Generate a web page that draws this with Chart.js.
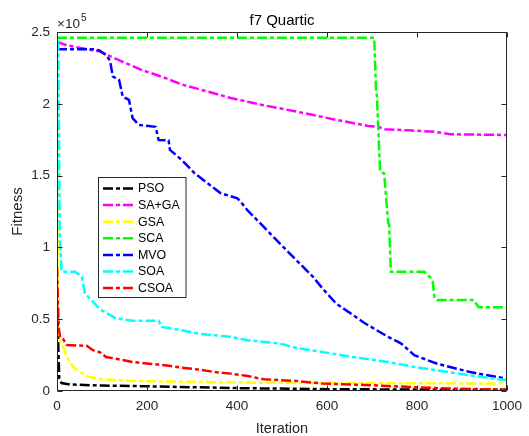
<!DOCTYPE html>
<html>
<head>
<meta charset="utf-8">
<script src="https://cdn.jsdelivr.net/npm/chart.js@4.4.0/dist/chart.umd.min.js"></script>
<style>
  html, body { margin: 0; padding: 0; background: #fff; }
  canvas { display: block; }
</style>
</head>
<body>
<canvas id="convergenceChart" width="529" height="436"></canvas>
<script>
// best fitness per iteration, values in units of 1e5: [iteration, fitness]
const psoCurve = [[0, 0.62], [3, 0.3], [5, 0.09], [10, 0.055], [30, 0.045], [100, 0.038], [200, 0.033],
  [400, 0.02], [600, 0.013], [800, 0.01], [1000, 0.008]];
const sagaCurve = [[0, 2.43], [20, 2.41], [50, 2.39], [95, 2.365], [140, 2.3], [189, 2.235], [240, 2.18],
  [277, 2.135], [335, 2.085], [386, 2.04], [459, 1.99], [532, 1.946], [580, 1.915], [620, 1.888],
  [692, 1.846], [714, 1.84], [729, 1.823], [780, 1.815], [838, 1.806], [875, 1.788], [1000, 1.783]];
const gsaCurve = [[0, 2.4], [1, 1.3], [2, 0.7], [3, 0.45], [5, 0.36], [11, 0.33], [22, 0.237], [36, 0.167],
  [51, 0.132], [70, 0.1], [95, 0.083], [168, 0.07], [313, 0.063], [459, 0.057], [700, 0.055], [1000, 0.052]];
const scaCurve = [[0, 2.46], [705, 2.46], [709, 2.09], [711, 2.05], [718, 1.53], [727, 1.515], [736, 1.17],
  [738, 1.16], [742, 0.83], [816, 0.83], [830, 0.79], [835, 0.76], [839, 0.65], [845, 0.633], [926, 0.633],
  [937, 0.583], [1000, 0.583]];
const mvoCurve = [[0, 2.38], [80, 2.38], [95, 2.37], [109, 2.34], [118, 2.3], [124, 2.19], [138, 2.167],
  [146, 2.05], [160, 2.027], [168, 1.9], [182, 1.853], [219, 1.84], [226, 1.748], [248, 1.745], [251, 1.679],
  [277, 1.61], [306, 1.516], [335, 1.446], [364, 1.377], [401, 1.342], [408, 1.318], [423, 1.26], [459, 1.144],
  [495, 1.028], [532, 0.911], [569, 0.795], [590, 0.714], [620, 0.61], [685, 0.47], [736, 0.377], [765, 0.33],
  [794, 0.249], [845, 0.19], [918, 0.132], [1000, 0.085]];
const soaCurve = [[0, 2.44], [3, 2.42], [6, 1.1], [10, 0.85], [11, 0.83], [40, 0.83], [55, 0.795], [62, 0.68],
  [73, 0.644], [95, 0.57], [131, 0.505], [168, 0.49], [226, 0.49], [233, 0.446], [277, 0.423], [313, 0.4],
  [350, 0.388], [386, 0.377], [423, 0.354], [459, 0.342], [496, 0.33], [532, 0.3], [590, 0.272], [650, 0.24],
  [736, 0.202], [790, 0.17], [845, 0.144], [918, 0.109], [1000, 0.075]];
const csoaCurve = [[0, 0.86], [2, 0.6], [4, 0.44], [7, 0.37], [14, 0.36], [22, 0.32], [66, 0.315], [80, 0.284],
  [95, 0.27], [109, 0.237], [131, 0.225], [168, 0.202], [204, 0.19], [240, 0.179], [277, 0.163], [313, 0.15],
  [350, 0.132], [386, 0.121], [423, 0.105], [459, 0.082], [532, 0.07], [590, 0.052], [700, 0.04], [809, 0.024],
  [900, 0.015], [1000, 0.01]];

const seriesNames = ["PSO", "SA+GA", "GSA", "SCA", "MVO", "SOA", "CSOA"];
const seriesColors = ["#000000", "#ff00ff", "#ffff00", "#00ff00", "#0000ff", "#00ffff", "#ff0000"];
const curves = [psoCurve, sagaCurve, gsaCurve, scaCurve, mvoCurve, soaCurve, csoaCurve];

const chartTitle = "f7 Quartic";
const xMax = 1000;
const yMax = 2.5;
const exponentText = "5";

const FONT = "'Liberation Sans', Arial, sans-serif";
const INK = "#262626";
const DASH = [10, 3, 4, 3];
const LINE_W = 2.5;

// matlab-like axes: full box, inward ticks, title over the plot, exponent label and a legend inside
const matlabAxes = {
  id: "matlabAxes",
  afterDatasetsDraw(chart) {
    const { ctx, chartArea: a, scales } = chart;
    const L = Math.round(a.left) + 0.5, R = Math.round(a.right) - 0.5;
    const T = Math.round(a.top) + 0.5, B = Math.round(a.bottom) - 0.5;
    ctx.save();
    ctx.strokeStyle = INK;
    ctx.lineWidth = 1;
    ctx.setLineDash([]);
    ctx.strokeRect(L, T, R - L, B - T);

    const tl = 5;
    ctx.beginPath();
    scales.x.ticks.forEach((t) => {
      const px = Math.round(scales.x.getPixelForValue(t.value)) + 0.5;
      ctx.moveTo(px, B); ctx.lineTo(px, B - tl);
      ctx.moveTo(px, T); ctx.lineTo(px, T + tl);
    });
    scales.y.ticks.forEach((t) => {
      const py = Math.round(scales.y.getPixelForValue(t.value)) + 0.5;
      ctx.moveTo(L, py); ctx.lineTo(L + tl, py);
      ctx.moveTo(R, py); ctx.lineTo(R - tl, py);
    });
    ctx.stroke();

    // title centred on the axes
    ctx.fillStyle = "#000000";
    ctx.textAlign = "center";
    ctx.textBaseline = "alphabetic";
    ctx.font = `15px ${FONT}`;
    ctx.fillText(chartTitle, (a.left + a.right) / 2, 25);

    // x10^5 above the y axis
    ctx.fillStyle = INK;
    ctx.textAlign = "left";
    ctx.font = `13.5px ${FONT}`;
    ctx.fillText("\u00d710", a.left, 28.3);
    const w = ctx.measureText("\u00d710").width;
    ctx.font = `10px ${FONT}`;
    ctx.fillText(exponentText, a.left + w + 1, 20.7);

    // legend
    const bx = 98.5, by = 177.5, bw = 87.5, bh = 120;
    ctx.fillStyle = "#ffffff";
    ctx.fillRect(bx, by, bw, bh);
    ctx.strokeStyle = INK;
    ctx.strokeRect(bx, by, bw, bh);
    ctx.font = `12.4px ${FONT}`;
    ctx.textBaseline = "middle";
    seriesNames.forEach((name, i) => {
      const y = 188.5 + i * 16.6;
      ctx.strokeStyle = seriesColors[i];
      ctx.lineWidth = LINE_W;
      ctx.setLineDash(DASH);
      ctx.beginPath();
      ctx.moveTo(103, y);
      ctx.lineTo(134, y);
      ctx.stroke();
      ctx.fillStyle = "#000000";
      ctx.fillText(name, 138, y + 0.5);
    });
    ctx.restore();
  },
};

const datasets = curves.map((curve, i) => ({
  label: seriesNames[i],
  data: curve.map(([x, y]) => ({ x, y })),
  borderColor: seriesColors[i],
  backgroundColor: seriesColors[i],
  borderWidth: LINE_W,
  borderDash: DASH,
  pointRadius: 0,
  tension: 0,
  fill: false,
  // later series sit on top, like a plot() call sequence
  order: seriesNames.length - i,
}));

const ctx = document.getElementById("convergenceChart").getContext("2d");
new Chart(ctx, {
  type: "line",
  data: { datasets },
  plugins: [matlabAxes],
  options: {
    responsive: false,
    animation: false,
    layout: { padding: { top: 32, right: 15 } },
    plugins: {
      legend: { display: false },
      tooltip: { enabled: false },
    },
    scales: {
      x: {
        type: "linear",
        min: 0,
        max: xMax,
        grid: { display: false, drawTicks: false },
        border: { display: false },
        ticks: {
          stepSize: 200,
          padding: 7,
          maxRotation: 0,
          color: INK,
          font: { family: FONT, size: 13.5 },
          callback: (v) => String(v),
        },
        title: {
          display: true,
          text: "Iteration",
          color: INK,
          font: { family: FONT, size: 14.5, lineHeight: 1 },
          padding: { top: 0, bottom: 0 },
        },
        afterFit(scale) { scale.height = 45; },
      },
      y: {
        type: "linear",
        min: 0,
        max: yMax,
        grid: { display: false, drawTicks: false },
        border: { display: false },
        ticks: {
          stepSize: 0.5,
          padding: 7,
          color: INK,
          font: { family: FONT, size: 13.5 },
          callback: (v) => String(+v.toFixed(1)),
        },
        title: {
          display: true,
          text: "Fitness",
          color: INK,
          font: { family: FONT, size: 15, lineHeight: 1 },
          padding: { top: 10.5, bottom: 0 },
        },
        afterFit(scale) { scale.width = 57; },
      },
    },
  },
});
</script>
</body>
</html>
